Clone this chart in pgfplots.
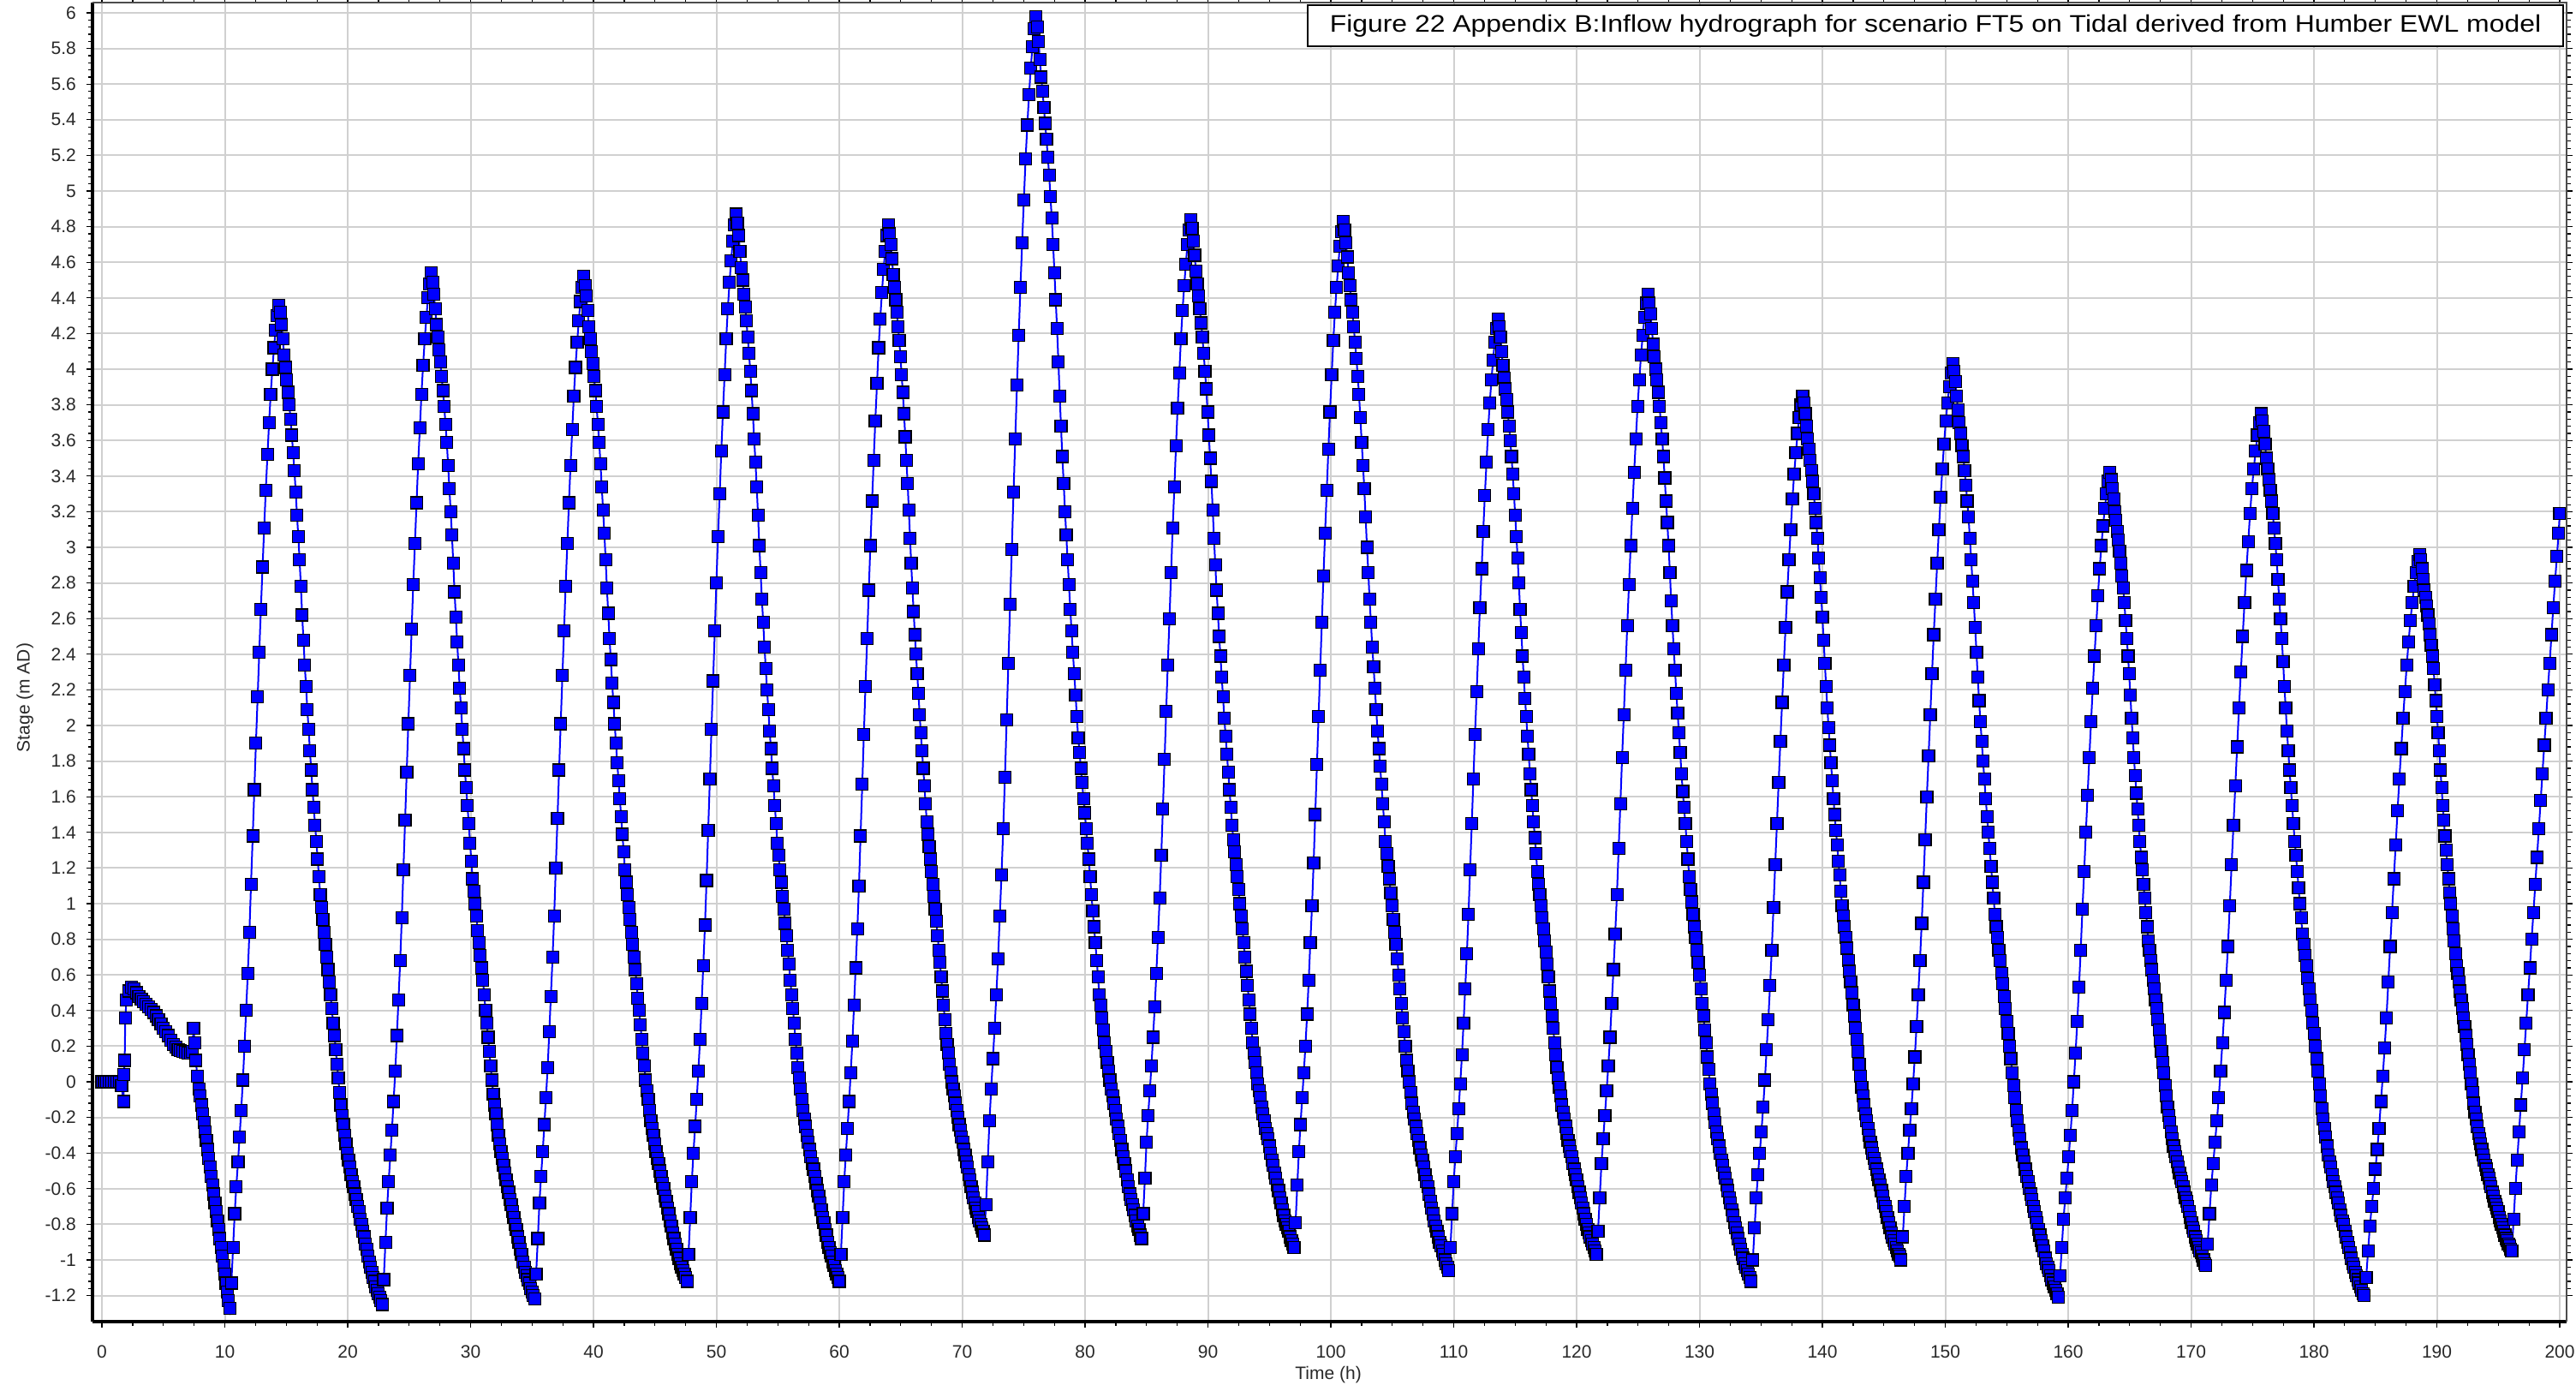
\documentclass[border=0pt]{standalone}
\usepackage{fontspec}
\setmainfont{Liberation Sans}
\usepackage{pgfplots}
\pgfplotsset{compat=1.18}
\definecolor{gridc}{RGB}{208,208,208}
\definecolor{ser}{RGB}{0,0,255}
\definecolor{tickc}{RGB}{40,40,40}
\begin{document}
\begin{tikzpicture}
\path[use as bounding box] (-54pt,-40pt) rectangle (1450pt,771.5pt);
\begin{axis}[
  at={(0pt,0pt)}, anchor=south west,
  scale only axis, width=1444.5pt, height=770pt,
  xmin=-0.77, xmax=200.56, ymin=-1.346, ymax=6.058,
  xtick={0,10,...,200},
  ytick={-1.2,-1,-0.8,-0.6,-0.4,-0.2,0,0.2,0.4,0.6,0.8,1,1.2,1.4,1.6,1.8,2,2.2,2.4,2.6,2.8,3,3.2,3.4,3.6,3.8,4,4.2,4.4,4.6,4.8,5,5.2,5.4,5.6,5.8,6},
  minor x tick num=3,
  minor y tick num=4,
  tick align=outside,
  major tick length=3.5pt, minor tick length=2.5pt,
  tick style={black, line width=0.6pt},
  grid=major,
  major grid style={gridc, line width=1pt},
  axis line style={draw=none},
  clip mode=individual,
  /pgf/number format/assume math mode=true,
  ticklabel style={font=\fontsize{10.5}{12}\selectfont, text=tickc},
  yticklabel style={/pgf/number format/fixed, /pgf/number format/precision=1, anchor=east, inner sep=0pt, xshift=-5.85pt},
  xticklabel style={/pgf/number format/fixed, anchor=north, inner sep=0pt, yshift=-10.25pt},
  xlabel={Time (h)}, ylabel={Stage (m AD)},
  label style={font=\fontsize{10.5}{12}\selectfont, text=tickc},
  xlabel style={at={(axis description cs:0.4995,-0.0403)}, anchor=center},
  ylabel style={at={(axis description cs:-0.0273,0.473)}, anchor=center},
]
\addplot[color=ser, line width=1pt, mark=square*, mark size=3.5pt, mark options={fill=ser, draw=black, line width=0.6pt, solid}] table {
t v
0 0
0.2 0
0.4 0
0.6 0
0.8 0
1.0 0
1.2 0
1.4 0
1.6 -0.02
1.75 -0.11
1.8 0.04
1.85 0.12
1.9 0.36
2.0 0.46
2.2 0.51
2.4 0.53
2.6 0.52
2.8 0.50
3.0 0.48
3.2 0.465
3.4 0.45
3.6 0.435
3.8 0.42
4.0 0.405
4.2 0.39
4.4 0.37
4.6 0.35
4.8 0.325
5.0 0.30
5.2 0.28
5.4 0.26
5.6 0.235
5.8 0.21
6.0 0.195
6.2 0.18
6.4 0.175
6.6 0.17
6.8 0.165
7.0 0.16
7.2 0.16
7.35 0.17
7.45 0.30
7.55 0.22
7.65 0.12
7.75 0.03
7.9 -0.04
8.0 -0.08
8.1 -0.13
8.2 -0.18
8.3 -0.23
8.4 -0.28
8.5 -0.33
8.6 -0.38
8.7 -0.43
8.8 -0.48
8.9 -0.53
9.0 -0.58
9.1 -0.63
9.2 -0.68
9.3 -0.73
9.4 -0.78
9.5 -0.83
9.6 -0.88
9.7 -0.93
9.8 -0.98
9.9 -1.03
10.0 -1.08
10.1 -1.13
10.2 -1.18
10.3 -1.23
10.4 -1.27
10.53 -1.13
10.67 -0.93
10.80 -0.74
10.93 -0.59
11.07 -0.45
11.20 -0.31
11.33 -0.16
11.47 0.01
11.60 0.20
11.73 0.40
11.87 0.61
12.00 0.84
12.13 1.11
12.27 1.38
12.40 1.64
12.53 1.90
12.67 2.16
12.80 2.41
12.93 2.65
13.07 2.89
13.20 3.11
13.33 3.32
13.47 3.52
13.60 3.70
13.73 3.86
13.87 4.00
14.00 4.12
14.13 4.22
14.27 4.30
14.40 4.36
14.51 4.32
14.61 4.25
14.72 4.17
14.82 4.08
14.93 4.01
15.03 3.94
15.14 3.87
15.24 3.80
15.35 3.72
15.45 3.63
15.56 3.53
15.66 3.43
15.77 3.31
15.87 3.18
15.98 3.06
16.08 2.93
16.19 2.78
16.29 2.62
16.40 2.48
16.50 2.34
16.61 2.22
16.71 2.09
16.82 1.98
16.92 1.86
17.03 1.75
17.13 1.64
17.24 1.54
17.34 1.44
17.45 1.35
17.55 1.25
17.66 1.15
17.76 1.05
17.87 0.98
17.97 0.91
18.08 0.84
18.18 0.77
18.29 0.70
18.39 0.63
18.50 0.56
18.60 0.49
18.71 0.41
18.81 0.33
18.92 0.26
19.02 0.18
19.13 0.10
19.23 0.02
19.34 -0.06
19.44 -0.13
19.55 -0.19
19.65 -0.24
19.76 -0.30
19.86 -0.35
19.97 -0.40
20.07 -0.44
20.18 -0.48
20.28 -0.52
20.39 -0.56
20.49 -0.59
20.60 -0.63
20.70 -0.66
20.81 -0.70
20.91 -0.73
21.02 -0.77
21.12 -0.80
21.23 -0.84
21.33 -0.87
21.44 -0.91
21.54 -0.94
21.65 -0.98
21.75 -1.01
21.86 -1.04
21.96 -1.07
22.07 -1.10
22.17 -1.12
22.28 -1.15
22.38 -1.17
22.49 -1.19
22.59 -1.21
22.70 -1.23
22.80 -1.25
22.93 -1.11
23.07 -0.90
23.20 -0.71
23.33 -0.56
23.47 -0.41
23.60 -0.27
23.73 -0.11
23.87 0.06
24.00 0.26
24.13 0.46
24.27 0.68
24.40 0.92
24.53 1.19
24.67 1.47
24.80 1.74
24.93 2.01
25.07 2.28
25.20 2.54
25.33 2.79
25.47 3.02
25.60 3.25
25.73 3.47
25.87 3.67
26.00 3.86
26.13 4.02
26.27 4.17
26.40 4.29
26.53 4.40
26.67 4.48
26.80 4.54
26.91 4.49
27.01 4.42
27.12 4.34
27.22 4.25
27.33 4.18
27.43 4.11
27.54 4.04
27.64 3.96
27.75 3.88
27.85 3.79
27.96 3.69
28.06 3.59
28.17 3.46
28.27 3.33
28.38 3.20
28.48 3.07
28.59 2.91
28.69 2.75
28.80 2.61
28.90 2.47
29.01 2.34
29.11 2.21
29.22 2.10
29.32 1.98
29.43 1.87
29.53 1.75
29.64 1.65
29.74 1.55
29.85 1.45
29.95 1.34
30.06 1.24
30.16 1.14
30.27 1.07
30.37 1.00
30.48 0.93
30.58 0.85
30.69 0.78
30.79 0.71
30.90 0.64
31.00 0.57
31.11 0.49
31.21 0.40
31.32 0.33
31.42 0.25
31.53 0.17
31.63 0.09
31.74 0.01
31.84 -0.07
31.95 -0.13
32.05 -0.18
32.16 -0.24
32.26 -0.30
32.37 -0.35
32.47 -0.39
32.58 -0.43
32.68 -0.47
32.79 -0.51
32.89 -0.55
33.00 -0.59
33.10 -0.62
33.21 -0.66
33.31 -0.69
33.42 -0.73
33.52 -0.76
33.63 -0.80
33.73 -0.83
33.84 -0.87
33.94 -0.90
34.05 -0.94
34.15 -0.97
34.26 -1.01
34.36 -1.04
34.47 -1.07
34.57 -1.09
34.68 -1.11
34.78 -1.13
34.89 -1.16
34.99 -1.18
35.10 -1.20
35.20 -1.22
35.33 -1.08
35.47 -0.88
35.60 -0.68
35.73 -0.53
35.87 -0.39
36.00 -0.24
36.13 -0.09
36.27 0.08
36.40 0.28
36.53 0.48
36.67 0.70
36.80 0.93
36.93 1.20
37.07 1.48
37.20 1.75
37.33 2.01
37.47 2.28
37.60 2.53
37.73 2.78
37.87 3.02
38.00 3.25
38.13 3.46
38.27 3.66
38.40 3.85
38.53 4.01
38.67 4.15
38.80 4.27
38.93 4.38
39.07 4.46
39.20 4.52
39.31 4.47
39.41 4.41
39.52 4.33
39.62 4.24
39.73 4.17
39.83 4.10
39.94 4.03
40.04 3.96
40.15 3.88
40.25 3.79
40.36 3.69
40.46 3.59
40.57 3.47
40.67 3.34
40.78 3.21
40.88 3.08
40.99 2.93
41.09 2.77
41.20 2.63
41.30 2.49
41.41 2.37
41.51 2.24
41.62 2.13
41.72 2.01
41.83 1.90
41.93 1.79
42.04 1.69
42.14 1.59
42.25 1.49
42.35 1.39
42.46 1.29
42.56 1.19
42.67 1.12
42.77 1.05
42.88 0.98
42.98 0.91
43.09 0.84
43.19 0.77
43.30 0.70
43.40 0.63
43.51 0.55
43.61 0.47
43.72 0.40
43.82 0.32
43.93 0.24
44.03 0.16
44.14 0.09
44.24 0.01
44.35 -0.05
44.45 -0.10
44.56 -0.16
44.66 -0.22
44.77 -0.26
44.87 -0.30
44.98 -0.35
45.08 -0.39
45.19 -0.43
45.29 -0.46
45.40 -0.50
45.50 -0.53
45.61 -0.57
45.71 -0.60
45.82 -0.64
45.92 -0.67
46.03 -0.71
46.13 -0.74
46.24 -0.78
46.34 -0.81
46.45 -0.85
46.55 -0.88
46.66 -0.91
46.76 -0.94
46.87 -0.97
46.97 -0.99
47.08 -1.02
47.18 -1.04
47.29 -1.06
47.39 -1.08
47.50 -1.10
47.60 -1.12
47.73 -0.97
47.87 -0.76
48.00 -0.56
48.13 -0.40
48.27 -0.25
48.40 -0.10
48.53 0.06
48.67 0.24
48.80 0.44
48.93 0.65
49.07 0.88
49.20 1.13
49.33 1.41
49.47 1.70
49.60 1.98
49.73 2.25
49.87 2.53
50.00 2.80
50.13 3.06
50.27 3.30
50.40 3.54
50.53 3.76
50.67 3.97
50.80 4.17
50.93 4.34
51.07 4.49
51.20 4.61
51.33 4.72
51.47 4.81
51.60 4.87
51.71 4.82
51.81 4.75
51.92 4.66
52.02 4.57
52.13 4.50
52.23 4.42
52.34 4.35
52.44 4.27
52.55 4.18
52.65 4.09
52.76 3.99
52.86 3.88
52.97 3.75
53.07 3.61
53.18 3.48
53.28 3.34
53.39 3.18
53.49 3.01
53.60 2.86
53.70 2.71
53.81 2.58
53.91 2.44
54.02 2.32
54.12 2.20
54.23 2.09
54.33 1.97
54.44 1.87
54.54 1.76
54.65 1.66
54.75 1.55
54.86 1.45
54.96 1.34
55.07 1.27
55.17 1.19
55.28 1.12
55.38 1.04
55.49 0.97
55.59 0.89
55.70 0.82
55.80 0.74
55.91 0.66
56.01 0.57
56.12 0.49
56.22 0.41
56.33 0.33
56.43 0.24
56.54 0.16
56.64 0.08
56.75 0.02
56.85 -0.04
56.96 -0.10
57.06 -0.16
57.17 -0.21
57.27 -0.25
57.38 -0.30
57.48 -0.34
57.59 -0.38
57.69 -0.42
57.80 -0.46
57.90 -0.49
58.01 -0.53
58.11 -0.57
58.22 -0.61
58.32 -0.64
58.43 -0.68
58.53 -0.72
58.64 -0.76
58.74 -0.79
58.85 -0.83
58.95 -0.86
59.06 -0.90
59.16 -0.93
59.27 -0.96
59.37 -0.98
59.48 -1.01
59.58 -1.03
59.69 -1.06
59.79 -1.08
59.90 -1.10
60.00 -1.12
60.13 -0.97
60.27 -0.76
60.40 -0.56
60.53 -0.41
60.67 -0.26
60.80 -0.11
60.93 0.05
61.07 0.23
61.20 0.43
61.33 0.64
61.47 0.86
61.60 1.10
61.73 1.38
61.87 1.67
62.00 1.95
62.13 2.22
62.27 2.49
62.40 2.76
62.53 3.01
62.67 3.26
62.80 3.49
62.93 3.71
63.07 3.92
63.20 4.12
63.33 4.28
63.47 4.43
63.60 4.56
63.73 4.66
63.87 4.75
64.00 4.81
64.10 4.76
64.20 4.70
64.29 4.62
64.39 4.53
64.49 4.46
64.59 4.39
64.68 4.32
64.78 4.24
64.88 4.16
64.98 4.07
65.07 3.97
65.17 3.87
65.27 3.75
65.37 3.62
65.46 3.49
65.56 3.36
65.66 3.21
65.76 3.05
65.85 2.91
65.95 2.77
66.05 2.64
66.15 2.51
66.24 2.40
66.34 2.29
66.44 2.18
66.54 2.06
66.63 1.96
66.73 1.86
66.83 1.76
66.93 1.66
67.02 1.56
67.12 1.46
67.22 1.39
67.32 1.32
67.41 1.25
67.51 1.18
67.61 1.11
67.71 1.04
67.80 0.97
67.90 0.90
68.00 0.82
68.10 0.74
68.19 0.67
68.29 0.59
68.39 0.51
68.49 0.43
68.58 0.35
68.68 0.27
68.78 0.21
68.88 0.16
68.97 0.10
69.07 0.05
69.17 0.00
69.27 -0.04
69.36 -0.08
69.46 -0.12
69.56 -0.16
69.66 -0.20
69.75 -0.24
69.85 -0.27
69.95 -0.31
70.05 -0.34
70.14 -0.38
70.24 -0.41
70.34 -0.45
70.44 -0.48
70.53 -0.52
70.63 -0.55
70.73 -0.59
70.83 -0.62
70.92 -0.65
71.02 -0.68
71.12 -0.71
71.22 -0.73
71.31 -0.76
71.41 -0.78
71.51 -0.80
71.61 -0.82
71.70 -0.84
71.80 -0.86
71.94 -0.69
72.08 -0.45
72.22 -0.22
72.36 -0.04
72.50 0.13
72.64 0.30
72.78 0.49
72.92 0.69
73.06 0.93
73.20 1.16
73.34 1.42
73.48 1.71
73.62 2.03
73.76 2.35
73.90 2.68
74.04 2.99
74.18 3.31
74.32 3.61
74.46 3.91
74.60 4.19
74.74 4.46
74.88 4.71
75.02 4.95
75.16 5.18
75.30 5.37
75.44 5.54
75.58 5.69
75.72 5.81
75.86 5.91
76.00 5.98
76.11 5.92
76.22 5.84
76.32 5.74
76.43 5.64
76.54 5.56
76.65 5.47
76.75 5.38
76.86 5.29
76.97 5.19
77.08 5.09
77.18 4.97
77.29 4.85
77.40 4.70
77.51 4.54
77.61 4.39
77.72 4.23
77.83 4.04
77.94 3.85
78.04 3.68
78.15 3.51
78.26 3.36
78.37 3.20
78.47 3.07
78.58 2.93
78.69 2.79
78.80 2.65
78.90 2.53
79.01 2.41
79.12 2.29
79.23 2.17
79.33 2.05
79.44 1.93
79.55 1.85
79.66 1.76
79.76 1.68
79.87 1.59
79.98 1.51
80.09 1.42
80.19 1.34
80.30 1.25
80.41 1.15
80.52 1.05
80.62 0.96
80.73 0.87
80.84 0.78
80.95 0.68
81.05 0.59
81.16 0.49
81.27 0.43
81.38 0.36
81.48 0.29
81.59 0.22
81.70 0.17
81.81 0.11
81.91 0.06
82.02 0.01
82.13 -0.04
82.24 -0.08
82.34 -0.12
82.45 -0.16
82.56 -0.21
82.67 -0.25
82.77 -0.29
82.88 -0.33
82.99 -0.38
83.10 -0.42
83.20 -0.46
83.31 -0.50
83.42 -0.55
83.53 -0.59
83.63 -0.63
83.74 -0.66
83.85 -0.69
83.96 -0.72
84.06 -0.75
84.17 -0.78
84.28 -0.81
84.39 -0.83
84.49 -0.86
84.60 -0.88
84.73 -0.74
84.87 -0.54
85.00 -0.34
85.13 -0.19
85.27 -0.05
85.40 0.09
85.53 0.25
85.67 0.42
85.80 0.61
85.93 0.81
86.07 1.03
86.20 1.27
86.33 1.53
86.47 1.81
86.60 2.08
86.73 2.34
86.87 2.60
87.00 2.86
87.13 3.11
87.27 3.34
87.40 3.57
87.53 3.78
87.67 3.98
87.80 4.17
87.93 4.33
88.07 4.47
88.20 4.59
88.33 4.70
88.47 4.78
88.60 4.84
88.71 4.79
88.81 4.72
88.92 4.64
89.02 4.55
89.13 4.48
89.23 4.41
89.34 4.34
89.44 4.26
89.55 4.18
89.65 4.09
89.76 3.99
89.86 3.89
89.97 3.76
90.07 3.63
90.18 3.50
90.28 3.37
90.39 3.21
90.49 3.05
90.60 2.90
90.70 2.76
90.81 2.63
90.91 2.50
91.02 2.39
91.12 2.27
91.23 2.16
91.33 2.04
91.44 1.94
91.54 1.84
91.65 1.74
91.75 1.64
91.86 1.54
91.96 1.44
92.07 1.36
92.17 1.29
92.28 1.22
92.38 1.15
92.49 1.08
92.59 1.00
92.70 0.93
92.80 0.86
92.91 0.78
93.01 0.70
93.12 0.62
93.22 0.54
93.33 0.46
93.43 0.38
93.54 0.30
93.64 0.22
93.75 0.16
93.85 0.11
93.96 0.05
94.06 -0.01
94.17 -0.05
94.27 -0.09
94.38 -0.14
94.48 -0.18
94.59 -0.22
94.69 -0.26
94.80 -0.29
94.90 -0.32
95.01 -0.36
95.11 -0.40
95.22 -0.44
95.32 -0.47
95.43 -0.51
95.53 -0.54
95.64 -0.58
95.74 -0.61
95.85 -0.65
95.95 -0.68
96.06 -0.72
96.16 -0.75
96.27 -0.78
96.37 -0.80
96.48 -0.82
96.58 -0.84
96.69 -0.87
96.79 -0.89
96.90 -0.91
97.00 -0.93
97.13 -0.79
97.27 -0.58
97.40 -0.39
97.53 -0.24
97.67 -0.09
97.80 0.05
97.93 0.20
98.07 0.38
98.20 0.57
98.33 0.78
98.47 0.99
98.60 1.23
98.73 1.50
98.87 1.78
99.00 2.05
99.13 2.31
99.27 2.58
99.40 2.84
99.53 3.08
99.67 3.32
99.80 3.55
99.93 3.76
100.07 3.97
100.20 4.16
100.33 4.32
100.47 4.46
100.60 4.58
100.73 4.69
100.87 4.77
101.00 4.83
101.11 4.78
101.22 4.71
101.33 4.63
101.43 4.54
101.54 4.47
101.65 4.39
101.76 4.32
101.86 4.24
101.97 4.15
102.08 4.06
102.19 3.96
102.29 3.86
102.40 3.73
102.51 3.59
102.62 3.46
102.72 3.33
102.83 3.17
102.94 3.00
103.05 2.86
103.15 2.71
103.26 2.58
103.37 2.44
103.48 2.33
103.58 2.21
103.69 2.09
103.80 1.97
103.91 1.87
104.01 1.77
104.12 1.67
104.23 1.56
104.34 1.46
104.44 1.35
104.55 1.28
104.66 1.21
104.77 1.14
104.87 1.06
104.98 0.99
105.09 0.91
105.20 0.84
105.30 0.77
105.41 0.69
105.52 0.60
105.63 0.52
105.73 0.44
105.84 0.36
105.95 0.28
106.06 0.20
106.16 0.12
106.27 0.06
106.38 0.00
106.49 -0.06
106.59 -0.12
106.70 -0.17
106.81 -0.21
106.92 -0.25
107.02 -0.29
107.13 -0.33
107.24 -0.37
107.35 -0.41
107.45 -0.44
107.56 -0.48
107.67 -0.52
107.78 -0.56
107.88 -0.59
107.99 -0.63
108.10 -0.67
108.21 -0.71
108.31 -0.74
108.42 -0.78
108.53 -0.81
108.64 -0.84
108.74 -0.87
108.85 -0.90
108.96 -0.92
109.07 -0.95
109.17 -0.97
109.28 -1.00
109.39 -1.02
109.50 -1.04
109.60 -1.06
109.73 -0.93
109.87 -0.74
110.00 -0.56
110.13 -0.42
110.27 -0.29
110.40 -0.15
110.53 -0.01
110.67 0.15
110.80 0.33
110.93 0.52
111.07 0.72
111.20 0.94
111.33 1.19
111.47 1.45
111.60 1.70
111.73 1.95
111.87 2.19
112.00 2.43
112.13 2.66
112.27 2.88
112.40 3.09
112.53 3.29
112.67 3.48
112.80 3.66
112.93 3.81
113.07 3.94
113.20 4.05
113.33 4.15
113.47 4.23
113.60 4.28
113.7 4.24
113.8 4.18
113.9 4.10
114.0 4.02
114.1 3.95
114.2 3.89
114.3 3.83
114.4 3.76
114.5 3.68
114.6 3.60
114.7 3.51
114.8 3.41
114.9 3.30
115.0 3.18
115.1 3.06
115.2 2.94
115.3 2.80
115.4 2.65
115.5 2.52
115.6 2.39
115.7 2.27
115.8 2.15
115.9 2.05
116.0 1.94
116.1 1.84
116.2 1.73
116.3 1.64
116.4 1.55
116.5 1.46
116.6 1.37
116.7 1.28
116.8 1.18
116.9 1.11
117.0 1.05
117.1 0.99
117.2 0.92
117.3 0.86
117.4 0.79
117.5 0.73
117.6 0.66
117.7 0.59
117.8 0.51
117.9 0.44
118.0 0.37
118.1 0.30
118.2 0.22
118.3 0.15
118.4 0.08
118.5 0.02
118.6 -0.03
118.7 -0.08
118.8 -0.13
118.9 -0.17
119.0 -0.21
119.1 -0.25
119.2 -0.29
119.3 -0.33
119.4 -0.36
119.5 -0.39
119.6 -0.42
119.7 -0.46
119.8 -0.49
119.9 -0.52
120.0 -0.55
120.1 -0.59
120.2 -0.62
120.3 -0.65
120.4 -0.68
120.5 -0.71
120.6 -0.74
120.7 -0.77
120.8 -0.80
120.9 -0.83
121.0 -0.85
121.1 -0.87
121.2 -0.89
121.3 -0.91
121.4 -0.93
121.5 -0.95
121.6 -0.97
121.74 -0.84
121.88 -0.65
122.02 -0.46
122.16 -0.32
122.30 -0.19
122.44 -0.05
122.58 0.09
122.72 0.25
122.86 0.44
123.00 0.63
123.14 0.83
123.28 1.05
123.42 1.31
123.56 1.56
123.70 1.82
123.84 2.06
123.98 2.31
124.12 2.56
124.26 2.79
124.40 3.01
124.54 3.22
124.68 3.42
124.82 3.61
124.96 3.79
125.10 3.94
125.24 4.08
125.38 4.19
125.52 4.29
125.66 4.37
125.80 4.42
125.91 4.37
126.01 4.31
126.12 4.23
126.22 4.14
126.33 4.07
126.43 4.00
126.54 3.94
126.64 3.87
126.75 3.79
126.85 3.70
126.96 3.61
127.06 3.51
127.17 3.39
127.27 3.26
127.38 3.14
127.48 3.01
127.59 2.86
127.69 2.70
127.80 2.56
127.90 2.43
128.01 2.31
128.11 2.18
128.22 2.07
128.32 1.96
128.43 1.85
128.53 1.73
128.64 1.63
128.74 1.54
128.85 1.45
128.95 1.35
129.06 1.25
129.16 1.15
129.27 1.08
129.37 1.01
129.48 0.94
129.58 0.87
129.69 0.81
129.79 0.74
129.90 0.67
130.00 0.60
130.11 0.52
130.21 0.44
130.32 0.37
130.42 0.29
130.53 0.22
130.63 0.14
130.74 0.07
130.84 -0.01
130.95 -0.07
131.05 -0.12
131.16 -0.18
131.26 -0.23
131.37 -0.28
131.47 -0.32
131.58 -0.36
131.68 -0.40
131.79 -0.44
131.89 -0.47
132.00 -0.51
132.10 -0.54
132.21 -0.58
132.31 -0.61
132.42 -0.65
132.52 -0.68
132.63 -0.72
132.73 -0.75
132.84 -0.79
132.94 -0.82
133.05 -0.85
133.15 -0.88
133.26 -0.91
133.36 -0.94
133.47 -0.97
133.57 -0.99
133.68 -1.02
133.78 -1.04
133.89 -1.06
133.99 -1.08
134.10 -1.10
134.20 -1.12
134.34 -1.00
134.48 -0.82
134.62 -0.65
134.76 -0.52
134.90 -0.40
135.04 -0.28
135.18 -0.14
135.32 0.01
135.46 0.18
135.60 0.35
135.74 0.54
135.88 0.74
136.02 0.98
136.16 1.22
136.30 1.45
136.44 1.68
136.58 1.91
136.72 2.13
136.86 2.34
137.00 2.55
137.14 2.75
137.28 2.93
137.42 3.10
137.56 3.27
137.70 3.41
137.84 3.53
137.98 3.64
138.12 3.73
138.26 3.80
138.40 3.85
138.5 3.81
138.6 3.75
138.7 3.68
138.8 3.61
138.9 3.55
139.0 3.49
139.1 3.43
139.2 3.37
139.3 3.30
139.4 3.22
139.5 3.14
139.6 3.05
139.7 2.94
139.8 2.83
139.9 2.72
140.0 2.61
140.1 2.48
140.2 2.35
140.3 2.22
140.4 2.10
140.5 1.99
140.6 1.89
140.7 1.79
140.8 1.69
140.9 1.59
141.0 1.50
141.1 1.41
141.2 1.33
141.3 1.24
141.4 1.16
141.5 1.07
141.6 0.99
141.7 0.93
141.8 0.87
141.9 0.81
142.0 0.75
142.1 0.68
142.2 0.62
142.3 0.56
142.4 0.50
142.5 0.43
142.6 0.37
142.7 0.30
142.8 0.24
142.9 0.17
143.0 0.10
143.1 0.03
143.2 -0.03
143.3 -0.08
143.4 -0.13
143.5 -0.18
143.6 -0.22
143.7 -0.26
143.8 -0.30
143.9 -0.34
144.0 -0.37
144.1 -0.40
144.2 -0.43
144.3 -0.46
144.4 -0.49
144.5 -0.52
144.6 -0.55
144.7 -0.58
144.8 -0.61
144.9 -0.64
145.0 -0.68
145.1 -0.70
145.2 -0.73
145.3 -0.76
145.4 -0.79
145.5 -0.82
145.6 -0.85
145.7 -0.87
145.8 -0.89
145.9 -0.91
146.0 -0.93
146.1 -0.95
146.2 -0.97
146.3 -0.98
146.4 -1.00
146.54 -0.87
146.68 -0.70
146.82 -0.53
146.96 -0.40
147.10 -0.27
147.24 -0.15
147.38 -0.01
147.52 0.14
147.66 0.31
147.80 0.49
147.94 0.68
148.08 0.89
148.22 1.12
148.36 1.36
148.50 1.60
148.64 1.83
148.78 2.06
148.92 2.29
149.06 2.51
149.20 2.71
149.34 2.91
149.48 3.10
149.62 3.28
149.76 3.44
149.90 3.58
150.04 3.71
150.18 3.81
150.32 3.90
150.46 3.98
150.60 4.03
150.71 3.99
150.82 3.93
150.92 3.85
151.03 3.77
151.14 3.70
151.25 3.64
151.35 3.57
151.46 3.51
151.57 3.43
151.68 3.35
151.78 3.26
151.89 3.17
152.00 3.05
152.11 2.93
152.21 2.81
152.32 2.69
152.43 2.55
152.54 2.41
152.64 2.27
152.75 2.14
152.86 2.02
152.97 1.91
153.07 1.80
153.18 1.70
153.29 1.59
153.40 1.49
153.50 1.40
153.61 1.31
153.72 1.21
153.83 1.12
153.93 1.03
154.04 0.94
154.15 0.87
154.26 0.81
154.36 0.74
154.47 0.68
154.58 0.61
154.69 0.55
154.79 0.48
154.90 0.41
155.01 0.34
155.12 0.27
155.22 0.20
155.33 0.13
155.44 0.05
155.55 -0.02
155.65 -0.09
155.76 -0.16
155.87 -0.22
155.98 -0.27
156.08 -0.32
156.19 -0.37
156.30 -0.41
156.41 -0.45
156.51 -0.49
156.62 -0.53
156.73 -0.56
156.84 -0.60
156.94 -0.63
157.05 -0.66
157.16 -0.70
157.27 -0.73
157.37 -0.76
157.48 -0.79
157.59 -0.83
157.70 -0.86
157.80 -0.89
157.91 -0.92
158.02 -0.95
158.13 -0.99
158.23 -1.02
158.34 -1.04
158.45 -1.06
158.56 -1.09
158.66 -1.11
158.77 -1.13
158.88 -1.15
158.99 -1.17
159.09 -1.19
159.20 -1.21
159.34 -1.09
159.48 -0.93
159.62 -0.77
159.76 -0.65
159.90 -0.54
160.04 -0.42
160.18 -0.30
160.32 -0.16
160.46 0.00
160.60 0.16
160.74 0.34
160.88 0.53
161.02 0.74
161.16 0.97
161.30 1.18
161.44 1.40
161.58 1.61
161.72 1.82
161.86 2.02
162.00 2.21
162.14 2.39
162.28 2.56
162.42 2.73
162.56 2.88
162.70 3.01
162.84 3.12
162.98 3.22
163.12 3.30
163.26 3.37
163.40 3.42
163.50 3.38
163.60 3.33
163.70 3.27
163.79 3.20
163.89 3.15
163.99 3.09
164.09 3.04
164.18 2.98
164.28 2.91
164.38 2.84
164.48 2.77
164.57 2.69
164.67 2.59
164.77 2.49
164.87 2.39
164.96 2.29
165.06 2.17
165.16 2.04
165.26 1.93
165.35 1.82
165.45 1.72
165.55 1.62
165.65 1.53
165.74 1.44
165.84 1.35
165.94 1.26
166.04 1.19
166.13 1.11
166.23 1.03
166.33 0.95
166.43 0.87
166.52 0.79
166.62 0.74
166.72 0.68
166.82 0.63
166.91 0.57
167.01 0.52
167.11 0.46
167.21 0.41
167.30 0.35
167.40 0.29
167.50 0.23
167.60 0.17
167.69 0.11
167.79 0.05
167.89 -0.02
167.99 -0.08
168.08 -0.14
168.18 -0.19
168.28 -0.23
168.38 -0.28
168.47 -0.32
168.57 -0.36
168.67 -0.39
168.77 -0.42
168.86 -0.45
168.96 -0.48
169.06 -0.51
169.16 -0.54
169.25 -0.56
169.35 -0.59
169.45 -0.62
169.55 -0.65
169.64 -0.67
169.74 -0.70
169.84 -0.73
169.94 -0.76
170.03 -0.79
170.13 -0.82
170.23 -0.84
170.33 -0.87
170.42 -0.89
170.52 -0.91
170.62 -0.93
170.72 -0.95
170.81 -0.96
170.91 -0.98
171.01 -1.00
171.11 -1.02
171.20 -1.03
171.35 -0.91
171.50 -0.74
171.65 -0.58
171.80 -0.46
171.95 -0.34
172.10 -0.22
172.25 -0.09
172.40 0.06
172.55 0.22
172.70 0.39
172.85 0.57
173.00 0.76
173.15 0.99
173.30 1.22
173.45 1.44
173.60 1.66
173.75 1.88
173.90 2.10
174.05 2.30
174.20 2.50
174.35 2.69
174.50 2.87
174.65 3.03
174.80 3.19
174.95 3.33
175.10 3.44
175.25 3.54
175.40 3.63
175.55 3.70
175.70 3.75
175.81 3.71
175.91 3.65
176.02 3.58
176.12 3.50
176.23 3.44
176.33 3.38
176.44 3.32
176.54 3.26
176.65 3.19
176.75 3.11
176.86 3.02
176.96 2.93
177.07 2.82
177.17 2.71
177.28 2.60
177.38 2.49
177.49 2.36
177.59 2.22
177.70 2.10
177.80 1.97
177.91 1.86
178.01 1.75
178.12 1.65
178.22 1.55
178.33 1.45
178.43 1.35
178.54 1.27
178.64 1.18
178.75 1.09
178.85 1.00
178.96 0.92
179.06 0.83
179.17 0.77
179.27 0.71
179.38 0.65
179.48 0.58
179.59 0.52
179.69 0.46
179.80 0.40
179.90 0.33
180.01 0.27
180.11 0.20
180.22 0.13
180.32 0.06
180.43 -0.01
180.53 -0.08
180.64 -0.15
180.74 -0.21
180.85 -0.26
180.95 -0.31
181.06 -0.36
181.16 -0.41
181.27 -0.45
181.37 -0.48
181.48 -0.52
181.58 -0.56
181.69 -0.59
181.79 -0.62
181.90 -0.65
182.00 -0.68
182.11 -0.72
182.21 -0.75
182.32 -0.78
182.42 -0.80
182.53 -0.84
182.63 -0.87
182.74 -0.90
182.84 -0.93
182.95 -0.96
183.05 -0.99
183.16 -1.02
183.26 -1.04
183.37 -1.07
183.47 -1.09
183.58 -1.11
183.68 -1.13
183.79 -1.15
183.89 -1.17
184.00 -1.19
184.10 -1.20
184.25 -1.10
184.40 -0.95
184.55 -0.81
184.70 -0.70
184.85 -0.60
185.00 -0.49
185.15 -0.38
185.30 -0.26
185.45 -0.11
185.60 0.03
185.75 0.19
185.90 0.36
186.05 0.56
186.20 0.76
186.35 0.95
186.50 1.14
186.65 1.33
186.80 1.52
186.95 1.70
187.10 1.87
187.25 2.04
187.40 2.19
187.55 2.34
187.70 2.47
187.85 2.59
188.00 2.69
188.15 2.78
188.30 2.86
188.45 2.92
188.60 2.96
188.70 2.93
188.79 2.88
188.89 2.82
188.98 2.76
189.07 2.72
189.16 2.67
189.26 2.62
189.35 2.57
189.45 2.51
189.54 2.45
189.64 2.39
189.73 2.32
189.82 2.23
189.91 2.14
190.01 2.05
190.10 1.96
190.20 1.86
190.29 1.75
190.39 1.65
190.48 1.55
190.57 1.47
190.66 1.38
190.76 1.30
190.85 1.22
190.95 1.14
191.04 1.06
191.14 1.00
191.23 0.93
191.32 0.86
191.41 0.79
191.51 0.72
191.60 0.65
191.70 0.61
191.79 0.56
191.89 0.51
191.98 0.46
192.07 0.41
192.16 0.36
192.26 0.31
192.35 0.26
192.45 0.21
192.54 0.15
192.64 0.10
192.73 0.05
192.82 -0.01
192.91 -0.06
193.01 -0.12
193.10 -0.17
193.20 -0.21
193.29 -0.25
193.39 -0.29
193.48 -0.32
193.57 -0.35
193.66 -0.38
193.76 -0.41
193.85 -0.44
193.95 -0.47
194.04 -0.49
194.14 -0.52
194.23 -0.54
194.32 -0.57
194.41 -0.59
194.51 -0.62
194.60 -0.64
194.70 -0.67
194.79 -0.69
194.89 -0.71
194.98 -0.73
195.07 -0.76
195.16 -0.78
195.26 -0.80
195.35 -0.82
195.45 -0.84
195.54 -0.86
195.64 -0.88
195.73 -0.89
195.82 -0.91
195.91 -0.92
196.01 -0.94
196.10 -0.95
196.25 -0.77
196.39 -0.60
196.54 -0.44
196.69 -0.28
196.83 -0.13
196.98 0.02
197.13 0.18
197.27 0.33
197.42 0.49
197.57 0.64
197.71 0.80
197.86 0.95
198.01 1.11
198.15 1.26
198.30 1.42
198.45 1.58
198.59 1.73
198.74 1.89
198.89 2.04
199.03 2.20
199.18 2.35
199.33 2.51
199.47 2.66
199.62 2.81
199.77 2.95
199.91 3.08
200.00 3.19
};
\draw[black, line width=2pt] (rel axis cs:0,0) -- (rel axis cs:0,1);
\draw[black, line width=2.3pt] (rel axis cs:0,0) -- (rel axis cs:1,0);
\draw[black!70, line width=1.2pt] (rel axis cs:0,1) -- (rel axis cs:1,1) -- (rel axis cs:1,0);
\node[draw=black, line width=1pt, fill=white, minimum width=733pt, minimum height=24pt, inner sep=0pt, font=\fontsize{14}{16}\selectfont] at (rel axis cs:0.7449,0.9825) {\scalebox{1.14}[1]{Figure 22 Appendix B:Inflow hydrograph for scenario FT5 on Tidal derived from Humber EWL model}};
\end{axis}
\end{tikzpicture}
\end{document}
